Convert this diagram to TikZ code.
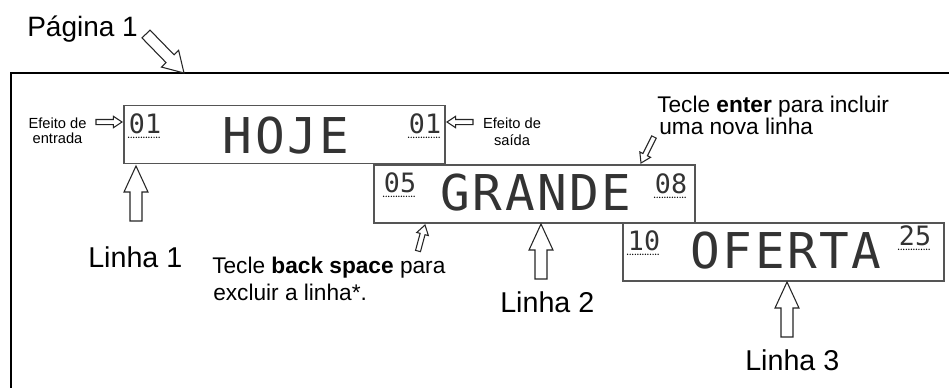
\documentclass[tikz,border=0pt]{standalone}
\usepackage{fontspec}
\setmainfont{Liberation Sans}
\newfontfamily\dotfont{DejaVu Sans Mono}[LetterSpace=5]
\newfontfamily\digfont{DejaVu Sans Mono}
\usetikzlibrary{calc}
\definecolor{boxgray}{HTML}{555555}
\newcommand\harrow[5]{%
  \coordinate (hb) at ($(#2)!#5!(#1)$);
  \draw[harrowline] ($(#1)!#3!90:(#2)$) -- ($(hb)!#3!90:(#2)$) -- ($(hb)!#4!90:(#2)$)
     -- (#2) -- ($(hb)!#4!-90:(#2)$) -- ($(hb)!#3!-90:(#2)$) -- ($(#1)!#3!-90:(#2)$) -- cycle;}
\begin{document}
\begin{tikzpicture}[x=0.75pt,y=-0.75pt,
  frame/.style={line width=1.5pt,black},
  dispbox/.style={draw=boxgray,line width=1.1pt,fill=white,minimum width=240.75pt,minimum height=43.5pt,inner sep=0pt},
  bigdot/.style={inner sep=0pt,anchor=base,text=black!80,font=\dotfont\fontsize{37}{40}\selectfont},
  digit/.style={inner sep=0pt,anchor=base,text=black!80,font=\digfont\fontsize{20}{22}\selectfont},
  udots/.style={line width=1.1pt,line cap=round,dash pattern=on 0pt off 1.9pt},
  lbl/.style={inner sep=0pt,anchor=base west},
  biglbl/.style={lbl,font=\fontsize{21.5}{24}\selectfont},
  midlbl/.style={lbl,font=\fontsize{17}{20}\selectfont},
  smalllbl/.style={inner sep=0pt,anchor=base,font=\fontsize{11}{13}\selectfont},
  harrowline/.style={draw=black!85,line width=0.8pt,fill=white,line join=miter}]
\useasboundingbox (0,0) rectangle (949,387);
% page frame
\draw[frame] (11,390) -- (11,73) -- (952,73);
% display boxes
\node[dispbox] (b1) at (284.5,134.5) {};
\node[dispbox] (b2) at (534.5,194) {};
\node[dispbox] (b3) at (783.5,252) {};
% box contents
\node[bigdot] (t1) at (286,153) {HOJE};
\node[bigdot] (t2) at (536,210) {GRANDE};
\node[bigdot] (t3) at (786,268) {OFERTA};
\node[digit] (d11) at (145,133) {01};
\node[digit] (d12) at (425,133) {01};
\node[digit] (d21) at (400,192) {05};
\node[digit] (d22) at (671,193) {08};
\node[digit] (d31) at (644,250) {10};
\node[digit] (d32) at (915,245) {25};
\foreach \d in {d11,d12,d21,d22,d31,d32}
  \draw[udots] ([yshift=-3.2pt]\d.base west) -- ([yshift=-3.2pt]\d.base east);
% labels
\node[lbl,font=\fontsize{21}{24}\selectfont] (pag) at (27,36) {Página 1};
\node[biglbl] (l1) at (88,267) {Linha 1};
\node[biglbl] (l2) at (500,312) {Linha 2};
\node[biglbl] (l3) at (745,370) {Linha 3};
\node[midlbl] (bs1) at (212,273) {Tecle \textbf{back space} para};
\node[midlbl] (bs2) at (213,300) {excluir a linha*.};
\node[midlbl] (en1) at (657,112) {Tecle \textbf{enter} para incluir};
\node[midlbl] (en2) at (659,134) {uma nova linha};
\node[smalllbl] (ee1) at (57.5,128) {Efeito de};
\node[smalllbl] (ee2) at (57.5,143) {entrada};
\node[smalllbl] (es1) at (512,128) {Efeito de};
\node[smalllbl] (es2) at (512,145) {saída};
% arrow end points
\coordinate (pagT) at (146,34);   \coordinate (pagH) at (184,73);
\coordinate (l1T) at (136,221);   \coordinate (l1H) at (136,166);
\coordinate (l2T) at (541,279);   \coordinate (l2H) at (541,224);
\coordinate (l3T) at (787,337);   \coordinate (l3H) at (787,282);
\coordinate (eeT) at (96,122);    \coordinate (eeH) at (122,122);
\coordinate (esT) at (473,122);   \coordinate (esH) at (447,122);
\coordinate (enT) at (654,137);   \coordinate (enH) at (641,163);
\coordinate (bsT) at (418,251);   \coordinate (bsH) at (425,225);
% hollow arrows
\harrow{pagT}{pagH}{4.2pt}{9pt}{15pt}
\harrow{l1T}{l1H}{4.5pt}{9pt}{19.5pt}
\harrow{l2T}{l2H}{4.5pt}{9pt}{19.5pt}
\harrow{l3T}{l3H}{4.5pt}{9pt}{19.5pt}
\harrow{eeT}{eeH}{1.9pt}{4.3pt}{6.5pt}
\harrow{esT}{esH}{1.9pt}{4.3pt}{6.5pt}
\harrow{enT}{enH}{1.9pt}{4.5pt}{7pt}
\harrow{bsT}{bsH}{1.9pt}{4.5pt}{7pt}
\end{tikzpicture}
\end{document}
